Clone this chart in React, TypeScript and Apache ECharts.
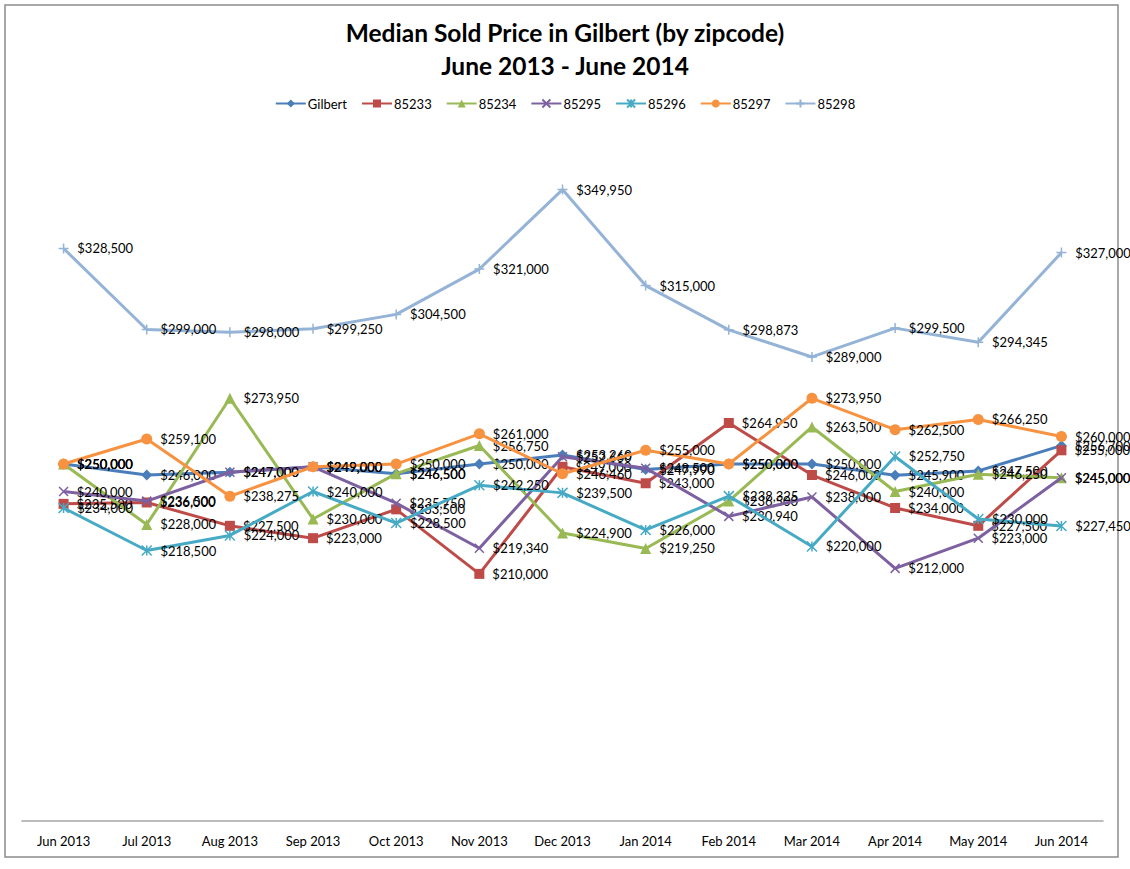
import React, { useEffect, useRef } from "react";
import * as echarts from "echarts";

const categories = ["Jun 2013", "Jul 2013", "Aug 2013", "Sep 2013", "Oct 2013", "Nov 2013", "Dec 2013", "Jan 2014", "Feb 2014", "Mar 2014", "Apr 2014", "May 2014", "Jun 2014"];

const gilbert = [250000, 246000, 247000, 249000, 246500, 250000, 253260, 247990, 250000, 250000, 245900, 247500, 256700];
const z85233 = [235500, 236000, 227500, 223000, 233500, 210000, 249000, 243000, 264950, 246000, 234000, 227500, 255000];
const z85234 = [250000, 228000, 273950, 230000, 246500, 256750, 224900, 219250, 236500, 263500, 240000, 246250, 245000];
const z85295 = [240000, 236500, 247000, 249000, 235750, 219340, 252660, 248500, 230940, 238000, 212000, 223000, 245000];
const z85296 = [234000, 218500, 224000, 240000, 228500, 242250, 239500, 226000, 238325, 220000, 252750, 230000, 227450];
const z85297 = [250000, 259100, 238275, 249000, 250000, 261000, 246460, 255000, 250000, 273950, 262500, 266250, 260000];
const z85298 = [328500, 299000, 298000, 299250, 304500, 321000, 349950, 315000, 298873, 289000, 299500, 294345, 327000];

const seriesNames = ["Gilbert", "85233", "85234", "85295", "85296", "85297", "85298"];
const seriesData = [gilbert, z85233, z85234, z85295, z85296, z85297, z85298];
const seriesColors = ["#4A7EBB", "#BE4B48", "#98B954", "#7D60A0", "#46AAC5", "#F69240", "#94B3D6"];

const X_PATH = "path://M0,0L10,10M10,0L0,10";
const STAR_PATH = "path://M0,0L10,10M10,0L0,10M5,0L5,10";
const PLUS_PATH = "path://M5,0L5,10M0,5L10,5";
const seriesSymbols = ["diamond", "rect", "triangle", X_PATH, STAR_PATH, "circle", PLUS_PATH];
const seriesSymbolSizes = [11, 10, 11, 9, 10, 11, 10];

const fmt = (v: number) => "$" + v.toLocaleString("en-US");

export default function App() {
  const ref = useRef<HTMLDivElement>(null);
  useEffect(() => {
    if (!ref.current) return;
    const chart = echarts.init(ref.current, null, { renderer: "svg" });
    const font = "Lato, 'Open Sans', sans-serif";
    chart.setOption({
      animation: false,
      backgroundColor: "#ffffff",
      textStyle: { fontFamily: font },
      title: {
        text: "Median Sold Price in Gilbert (by zipcode)\nJune 2013 - June 2014",
        left: "center",
        top: 11,
        textStyle: { fontFamily: font, fontSize: 24.5, fontWeight: "bold", color: "#000", lineHeight: 33 },
      },
      legend: {
        top: 92,
        left: "center",
        itemWidth: 30,
        itemHeight: 10,
        itemGap: 14,
        textStyle: { fontFamily: font, fontSize: 13, color: "#000", padding: [0, 0, 0, -3] },
        data: seriesNames,
      },
      graphic: [
        {
          type: "rect",
          shape: { x: 5, y: 5, width: 1113, height: 852 },
          style: { fill: "none", stroke: "#8c8c8c", lineWidth: 1.5 },
          z: -1,
        },
      ],
      grid: { left: 22, top: 162, width: 1081, height: 659, containLabel: false },
      xAxis: {
        type: "category",
        data: categories,
        boundaryGap: true,
        axisLine: { lineStyle: { color: "#A6A6A6", width: 1.5 } },
        axisTick: { show: false },
        axisLabel: { fontFamily: font, fontSize: 13, color: "#000", margin: 13, interval: 0 },
      },
      yAxis: {
        type: "value",
        min: 120000,
        max: 360000,
        show: false,
        splitLine: { show: false },
      },
      series: seriesNames.map((name, i) => ({
        name,
        type: "line",
        data: seriesData[i],
        color: seriesColors[i],
        symbol: seriesSymbols[i],
        symbolSize: seriesSymbolSizes[i],
        showAllSymbol: true,
        lineStyle: { width: 3, color: seriesColors[i] },
        itemStyle: { color: seriesColors[i], borderColor: seriesColors[i], borderWidth: i === 3 || i === 4 || i === 6 ? 1.5 : 0 },
        label: {
          show: true,
          position: "right",
          distance: 8,
          fontFamily: font,
          fontSize: 13,
          color: "#000",
          formatter: (p: any) => fmt(p.value),
        },
        labelLayout: { hideOverlap: false },
        z: 2 + i,
      })),
    });
    return () => chart.dispose();
  }, []);
  return <div ref={ref} style={{ position: "absolute", left: 0, top: 0, width: 1130, height: 869 }} />;
}
